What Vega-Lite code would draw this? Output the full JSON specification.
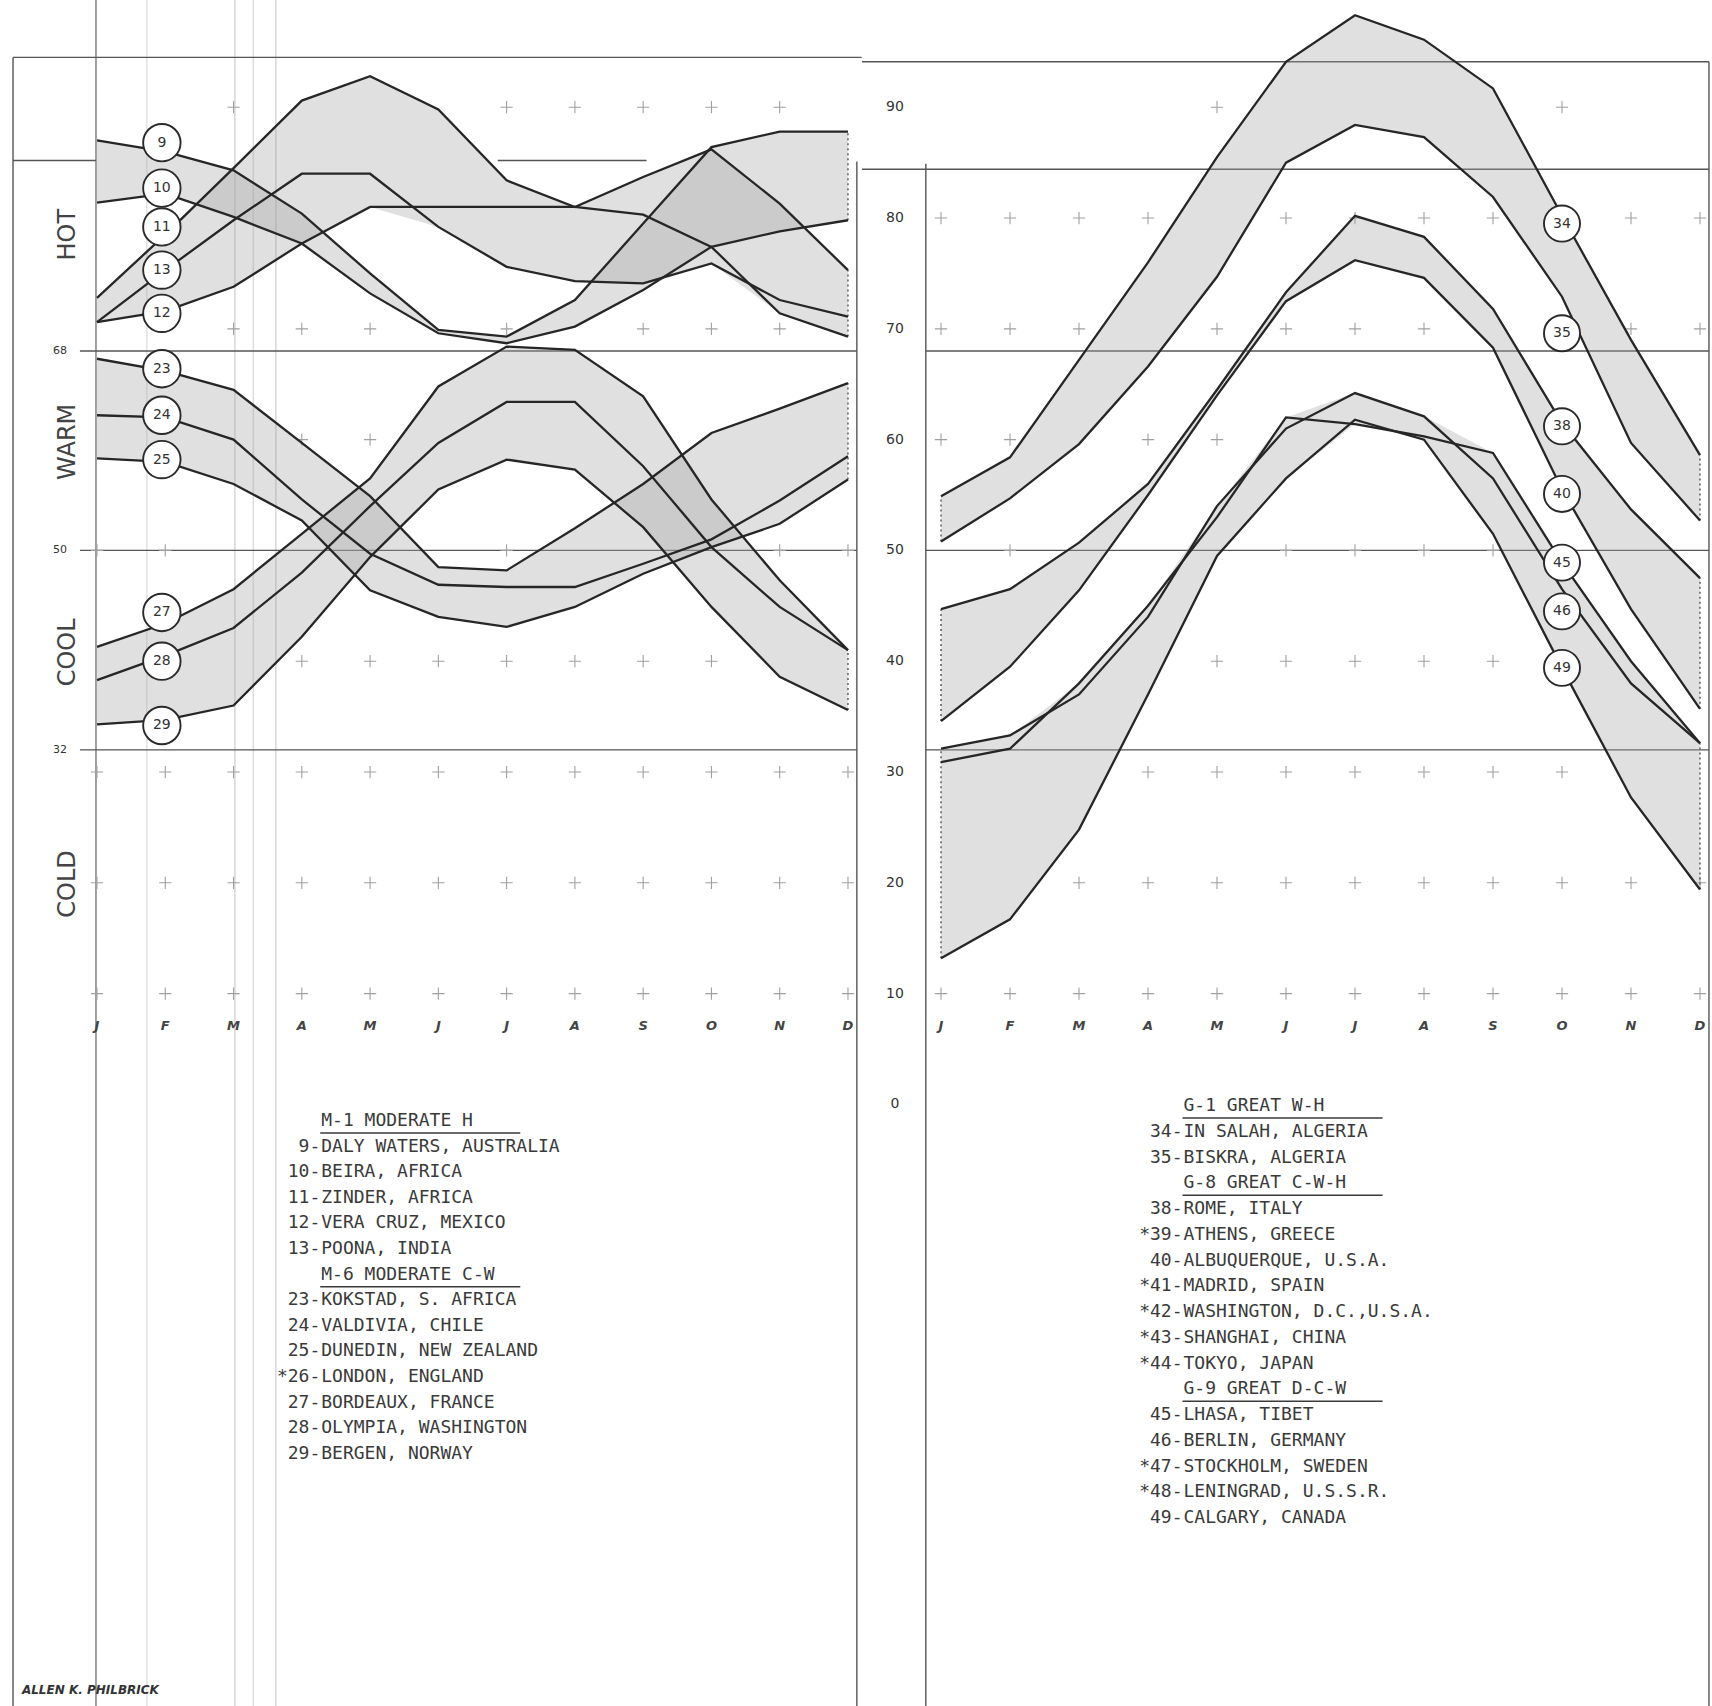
{
"$schema": "https://vega.github.io/schema/vega-lite/v6.json",
"width": 1712, "height": 1706,
"autosize": {"type": "none"},
"padding": 0,
"background": "white",
"config": {"view": {"stroke": null}},
"datasets": {
"curves": [
{"p":"L","g":"M1S","s":"9","m":[1,2,3,4,5,6,7,8,9,10,11,12],"t":[87.0,86.0,84.3,80.4,75.0,69.9,69.3,72.6,79.5,86.4,87.8,87.8]},
{"p":"L","g":"M1S","s":"10","m":[1,2,3,4,5,6,7,8,9,10,11,12],"t":[81.4,82.2,80.1,77.7,73.2,69.6,68.7,70.2,73.5,77.4,78.8,79.8]},
{"p":"L","g":"M1N","s":"11","m":[1,2,3,4,5,6,7,8,9,10,11,12],"t":[72.8,78.5,84.5,90.6,92.8,89.8,83.4,81.0,83.7,86.2,81.3,75.3]},
{"p":"L","g":"M1N","s":"12","m":[1,2,3,4,5,6,7,8,9,10,11,12],"t":[70.6,71.6,73.8,77.7,81.0,81.0,81.0,81.0,80.3,77.4,71.4,69.3]},
{"p":"L","g":"M1N","s":"13","m":[1,2,3,4,5,6,7,8,9,10,11,12],"t":[70.6,75.3,79.8,84.0,84.0,79.2,75.6,74.3,74.1,75.9,72.6,71.1]},
{"p":"L","g":"MCS","s":"23","m":[1,2,3,4,5,6,7,8,9,10,11,12],"t":[67.3,66.2,64.5,59.7,54.9,48.5,48.2,52.0,56.0,60.6,62.8,65.1]},
{"p":"L","g":"MCS","s":"24","m":[1,2,3,4,5,6,7,8,9,10,11,12],"t":[62.2,62.0,60.0,54.6,49.7,46.9,46.7,46.7,48.8,51.0,54.5,58.5]},
{"p":"L","g":"MCS","s":"25","m":[1,2,3,4,5,6,7,8,9,10,11,12],"t":[58.3,58.0,56.0,52.7,46.4,44.0,43.1,44.9,47.9,50.3,52.4,56.4]},
{"p":"L","g":"MCN","s":"27","m":[1,2,3,4,5,6,7,8,9,10,11,12],"t":[41.3,43.4,46.5,51.5,56.5,64.8,68.4,68.1,63.9,54.6,47.3,41.0]},
{"p":"L","g":"MCN","s":"28","m":[1,2,3,4,5,6,7,8,9,10,11,12],"t":[38.3,40.5,43.0,48.0,54.0,59.7,63.4,63.4,57.6,50.3,44.9,41.0]},
{"p":"L","g":"MCN","s":"29","m":[1,2,3,4,5,6,7,8,9,10,11,12],"t":[34.3,34.7,36.0,42.2,49.4,55.5,58.2,57.3,52.1,44.9,38.6,35.6]},
{"p":"R","g":"G1","s":"34","m":[1,2,3,4,5,6,7,8,9,10,11,12],"t":[54.9,58.4,67.2,76.0,85.5,94.1,98.3,96.1,91.7,80.2,69.0,58.6]},
{"p":"R","g":"G1","s":"35","m":[1,2,3,4,5,6,7,8,9,10,11,12],"t":[50.8,54.7,59.6,66.6,74.7,85.0,88.4,87.3,81.9,72.9,59.7,52.7]},
{"p":"R","g":"G8","s":"38","m":[1,2,3,4,5,6,7,8,9,10,11,12],"t":[44.7,46.5,50.7,56.0,64.5,73.3,80.2,78.3,71.8,61.5,53.7,47.5]},
{"p":"R","g":"G8","s":"40","m":[1,2,3,4,5,6,7,8,9,10,11,12],"t":[34.6,39.5,46.4,55.0,64.0,72.5,76.2,74.6,68.3,55.5,44.7,35.7]},
{"p":"R","g":"G9","s":"45","m":[1,2,3,4,5,6,7,8,9,10,11,12],"t":[30.9,32.1,38.0,45.0,53.0,62.0,61.4,60.3,58.8,48.9,40.0,32.6]},
{"p":"R","g":"G9","s":"46","m":[1,2,3,4,5,6,7,8,9,10,11,12],"t":[32.1,33.3,37.0,44.0,54.0,61.0,64.2,62.1,56.5,46.5,38.0,32.6]},
{"p":"R","g":"G9","s":"49","m":[1,2,3,4,5,6,7,8,9,10,11,12],"t":[13.2,16.7,24.8,37.0,49.5,56.5,61.8,60.0,51.5,39.4,27.7,19.4]}
],
"tags": [
{"p":"L","n":"9","m":1.95,"t":86.8},{"p":"L","n":"10","m":1.95,"t":82.7},{"p":"L","n":"11","m":1.95,"t":79.2},
{"p":"L","n":"13","m":1.95,"t":75.3},{"p":"L","n":"12","m":1.95,"t":71.4},{"p":"L","n":"23","m":1.95,"t":66.4},
{"p":"L","n":"24","m":1.95,"t":62.2},{"p":"L","n":"25","m":1.95,"t":58.2},{"p":"L","n":"27","m":1.95,"t":44.4},
{"p":"L","n":"28","m":1.95,"t":40.0},{"p":"L","n":"29","m":1.95,"t":34.2},
{"p":"R","n":"34","m":10,"t":79.5},{"p":"R","n":"35","m":10,"t":69.6},{"p":"R","n":"38","m":10,"t":61.2},
{"p":"R","n":"40","m":10,"t":55.1},{"p":"R","n":"45","m":10,"t":48.9},{"p":"R","n":"46","m":10,"t":44.5},
{"p":"R","n":"49","m":10,"t":39.4}
],
"crosses": [
{"p":"L","t":90,"m":[3,7,8,9,10,11]},
{"p":"L","t":70,"m":[3,4,5,7,9,10,11]},
{"p":"L","t":60,"m":[4,5]},
{"p":"L","t":50,"m":[1,2,7,11,12]},
{"p":"L","t":40,"m":[4,5,6,7,8,9,10]},
{"p":"L","t":30,"m":[1,2,3,4,5,6,7,8,9,10,11,12]},
{"p":"L","t":20,"m":[1,2,3,4,5,6,7,8,9,10,11,12]},
{"p":"L","t":10,"m":[1,2,3,4,5,6,7,8,9,10,11,12]},
{"p":"R","t":90,"m":[5,10]},
{"p":"R","t":80,"m":[1,2,3,4,6,7,8,9,11,12]},
{"p":"R","t":70,"m":[1,2,3,5,6,7,8,11,12]},
{"p":"R","t":60,"m":[1,2,4,5]},
{"p":"R","t":50,"m":[2,6,7,8,9]},
{"p":"R","t":40,"m":[5,6,7,8,9]},
{"p":"R","t":30,"m":[4,5,6,7,8,9,10]},
{"p":"R","t":20,"m":[3,4,5,6,7,8,9,10,11,12]},
{"p":"R","t":10,"m":[1,2,3,4,5,6,7,8,9,10,11,12]}
],
"bounds": [{"t":32},{"t":50},{"t":68}],
"classes": [{"c":"HOT","t":78.5},{"c":"WARM","t":59.8},{"c":"COOL","t":40.8},{"c":"COLD","t":19.9}],
"ylabels": [{"t":90},{"t":80},{"t":70},{"t":60},{"t":50},{"t":40},{"t":30},{"t":20},{"t":10},{"t":0}],
"months": [{"m":1,"lab":"J"},{"m":2,"lab":"F"},{"m":3,"lab":"M"},{"m":4,"lab":"A"},{"m":5,"lab":"M"},{"m":6,"lab":"J"},{"m":7,"lab":"J"},{"m":8,"lab":"A"},{"m":9,"lab":"S"},{"m":10,"lab":"O"},{"m":11,"lab":"N"},{"m":12,"lab":"D"}],
"legend": [
{"p":"L","line":0,"k":"t","name":"M-1 MODERATE H"},
{"p":"L","line":1,"k":"i","num":"9-","name":"DALY WATERS, AUSTRALIA"},
{"p":"L","line":2,"k":"i","num":"10-","name":"BEIRA, AFRICA"},
{"p":"L","line":3,"k":"i","num":"11-","name":"ZINDER, AFRICA"},
{"p":"L","line":4,"k":"i","num":"12-","name":"VERA CRUZ, MEXICO"},
{"p":"L","line":5,"k":"i","num":"13-","name":"POONA, INDIA"},
{"p":"L","line":6,"k":"t","name":"M-6 MODERATE C-W"},
{"p":"L","line":7,"k":"i","num":"23-","name":"KOKSTAD, S. AFRICA"},
{"p":"L","line":8,"k":"i","num":"24-","name":"VALDIVIA, CHILE"},
{"p":"L","line":9,"k":"i","num":"25-","name":"DUNEDIN, NEW ZEALAND"},
{"p":"L","line":10,"k":"i","num":"*26-","name":"LONDON, ENGLAND"},
{"p":"L","line":11,"k":"i","num":"27-","name":"BORDEAUX, FRANCE"},
{"p":"L","line":12,"k":"i","num":"28-","name":"OLYMPIA, WASHINGTON"},
{"p":"L","line":13,"k":"i","num":"29-","name":"BERGEN, NORWAY"},
{"p":"R","line":0,"k":"t","name":"G-1 GREAT W-H"},
{"p":"R","line":1,"k":"i","num":"34-","name":"IN SALAH, ALGERIA"},
{"p":"R","line":2,"k":"i","num":"35-","name":"BISKRA, ALGERIA"},
{"p":"R","line":3,"k":"t","name":"G-8 GREAT C-W-H"},
{"p":"R","line":4,"k":"i","num":"38-","name":"ROME, ITALY"},
{"p":"R","line":5,"k":"i","num":"*39-","name":"ATHENS, GREECE"},
{"p":"R","line":6,"k":"i","num":"40-","name":"ALBUQUERQUE, U.S.A."},
{"p":"R","line":7,"k":"i","num":"*41-","name":"MADRID, SPAIN"},
{"p":"R","line":8,"k":"i","num":"*42-","name":"WASHINGTON, D.C.,U.S.A."},
{"p":"R","line":9,"k":"i","num":"*43-","name":"SHANGHAI, CHINA"},
{"p":"R","line":10,"k":"i","num":"*44-","name":"TOKYO, JAPAN"},
{"p":"R","line":11,"k":"t","name":"G-9 GREAT D-C-W"},
{"p":"R","line":12,"k":"i","num":"45-","name":"LHASA, TIBET"},
{"p":"R","line":13,"k":"i","num":"46-","name":"BERLIN, GERMANY"},
{"p":"R","line":14,"k":"i","num":"*47-","name":"STOCKHOLM, SWEDEN"},
{"p":"R","line":15,"k":"i","num":"*48-","name":"LENINGRAD, U.S.S.R."},
{"p":"R","line":16,"k":"i","num":"49-","name":"CALGARY, CANADA"}
]
},
"resolve": {"scale": {"x": "independent", "y": "independent"}},
"layer": [
{
"resolve": {"scale": {"y": "independent"}},
"layer": [
{
"layer": [
{"data":{"values":[{}]},"mark":{"type":"rule","color":"#8a8a8a","strokeWidth":1.6},"encoding":{"x":{"datum":0.985,"type":"quantitative","scale":{"domain":[-0.4208,24.656],"nice":false,"zero":false},"axis":null},"y":{"datum":99.68,"type":"quantitative","scale":{"domain":[-54.3,99.68],"nice":false,"zero":false},"axis":null},"y2":{"datum":-54.3}}},
{"data":{"values":[{}]},"mark":{"type":"rule","color":"#e2e2e2","strokeWidth":1.5},"encoding":{"x":{"datum":1.73,"type":"quantitative","scale":{"domain":[-0.4208,24.656],"nice":false,"zero":false},"axis":null},"y":{"datum":99.68,"type":"quantitative","scale":{"domain":[-54.3,99.68],"nice":false,"zero":false},"axis":null},"y2":{"datum":-54.3}}},
{"data":{"values":[{}]},"mark":{"type":"rule","color":"#d6d6d6","strokeWidth":1.5},"encoding":{"x":{"datum":3.02,"type":"quantitative","scale":{"domain":[-0.4208,24.656],"nice":false,"zero":false},"axis":null},"y":{"datum":99.68,"type":"quantitative","scale":{"domain":[-54.3,99.68],"nice":false,"zero":false},"axis":null},"y2":{"datum":-54.3}}},
{"data":{"values":[{}]},"mark":{"type":"rule","color":"#dcdcdc","strokeWidth":1.5},"encoding":{"x":{"datum":3.29,"type":"quantitative","scale":{"domain":[-0.4208,24.656],"nice":false,"zero":false},"axis":null},"y":{"datum":99.68,"type":"quantitative","scale":{"domain":[-54.3,99.68],"nice":false,"zero":false},"axis":null},"y2":{"datum":-54.3}}},
{"data":{"values":[{}]},"mark":{"type":"rule","color":"#d6d6d6","strokeWidth":1.5},"encoding":{"x":{"datum":3.62,"type":"quantitative","scale":{"domain":[-0.4208,24.656],"nice":false,"zero":false},"axis":null},"y":{"datum":99.68,"type":"quantitative","scale":{"domain":[-54.3,99.68],"nice":false,"zero":false},"axis":null},"y2":{"datum":-54.3}}},
{"data":{"values":[{}]},"mark":{"type":"rule","color":"#555555","strokeWidth":1.4},"encoding":{"x":{"datum":-0.23,"type":"quantitative","scale":{"domain":[-0.4208,24.656],"nice":false,"zero":false},"axis":null},"x2":{"datum":12.2},"y":{"datum":94.5,"type":"quantitative","scale":{"domain":[-54.3,99.68],"nice":false,"zero":false},"axis":null}}},
{"data":{"values":[{}]},"mark":{"type":"rule","color":"#555555","strokeWidth":1.4},"encoding":{"x":{"datum":-0.23,"type":"quantitative","scale":{"domain":[-0.4208,24.656],"nice":false,"zero":false},"axis":null},"y":{"datum":94.5,"type":"quantitative","scale":{"domain":[-54.3,99.68],"nice":false,"zero":false},"axis":null},"y2":{"datum":-54.3}}},
{"data":{"values":[{}]},"mark":{"type":"rule","color":"#555555","strokeWidth":1.4},"encoding":{"x":{"datum":12.13,"type":"quantitative","scale":{"domain":[-0.4208,24.656],"nice":false,"zero":false},"axis":null},"y":{"datum":85.1,"type":"quantitative","scale":{"domain":[-54.3,99.68],"nice":false,"zero":false},"axis":null},"y2":{"datum":-54.3}}},
{"data":{"values":[{}]},"mark":{"type":"rule","color":"#555555","strokeWidth":1.4},"encoding":{"x":{"datum":-0.23,"type":"quantitative","scale":{"domain":[-0.4208,24.656],"nice":false,"zero":false},"axis":null},"x2":{"datum":0.985},"y":{"datum":85.2,"type":"quantitative","scale":{"domain":[-54.3,99.68],"nice":false,"zero":false},"axis":null}}},
{"data":{"values":[{}]},"mark":{"type":"rule","color":"#555555","strokeWidth":1.4},"encoding":{"x":{"datum":6.87,"type":"quantitative","scale":{"domain":[-0.4208,24.656],"nice":false,"zero":false},"axis":null},"x2":{"datum":9.05},"y":{"datum":85.2,"type":"quantitative","scale":{"domain":[-54.3,99.68],"nice":false,"zero":false},"axis":null}}},
{"data":{"name":"bounds"},"mark":{"type":"rule","color":"#555555","strokeWidth":1.4},"encoding":{"x":{"datum":0.75,"type":"quantitative","scale":{"domain":[-0.4208,24.656],"nice":false,"zero":false},"axis":null},"x2":{"datum":12.13},"y":{"field":"t","type":"quantitative","scale":{"domain":[-54.3,99.68],"nice":false,"zero":false},"axis":null}}},
{"data":{"name":"crosses"},"transform":[{"filter":"datum.p==='L'"},{"flatten":["m"]}],"mark":{"type":"point","shape":"M-1,0H1M0,-1V1","size":150,"color":"#a0a0a0","strokeWidth":1.1,"filled":false,"opacity":1},"encoding":{"x":{"field":"m","type":"quantitative","scale":{"domain":[-0.4208,24.656],"nice":false,"zero":false},"axis":null},"y":{"field":"t","type":"quantitative","scale":{"domain":[-54.3,99.68],"nice":false,"zero":false},"axis":null}}},
{"data":{"name":"curves"},"transform":[{"filter":"datum.p==='L'"},{"flatten":["m","t"]},{"aggregate":[{"op":"min","field":"t","as":"lo"},{"op":"max","field":"t","as":"hi"}],"groupby":["g","m"]}],"mark":{"type":"area","color":"#a4a4a4","opacity":0.34,"interpolate":"linear"},"encoding":{"x":{"field":"m","type":"quantitative","scale":{"domain":[-0.4208,24.656],"nice":false,"zero":false},"axis":null},"y":{"field":"lo","type":"quantitative","scale":{"domain":[-54.3,99.68],"nice":false,"zero":false},"axis":null},"y2":{"field":"hi"},"detail":{"field":"g"}}},
{"data":{"name":"curves"},"transform":[{"filter":"datum.p==='L'"},{"flatten":["m","t"]},{"aggregate":[{"op":"min","field":"t","as":"lo"},{"op":"max","field":"t","as":"hi"}],"groupby":["g","m"]},{"filter":{"field":"m","oneOf":[12]}}],"mark":{"type":"rule","color":"#555555","strokeWidth":1.4,"strokeDash":[2,3]},"encoding":{"x":{"field":"m","type":"quantitative","scale":{"domain":[-0.4208,24.656],"nice":false,"zero":false},"axis":null},"y":{"field":"lo","type":"quantitative","scale":{"domain":[-54.3,99.68],"nice":false,"zero":false},"axis":null},"y2":{"field":"hi"}}},
{"data":{"name":"curves"},"transform":[{"filter":"datum.p==='L'"},{"flatten":["m","t"]}],"mark":{"type":"line","color":"#262626","strokeWidth":2.3,"interpolate":"linear"},"encoding":{"x":{"field":"m","type":"quantitative","scale":{"domain":[-0.4208,24.656],"nice":false,"zero":false},"axis":null},"y":{"field":"t","type":"quantitative","scale":{"domain":[-54.3,99.68],"nice":false,"zero":false},"axis":null},"detail":{"field":"s"},"order":{"field":"m","type":"quantitative"}}},
{"data":{"name":"tags"},"transform":[{"filter":"datum.p==='L'"}],"mark":{"type":"point","shape":"circle","size":1400,"filled":true,"fill":"white","stroke":"#2a2a2a","strokeWidth":1.9,"opacity":1},"encoding":{"x":{"field":"m","type":"quantitative","scale":{"domain":[-0.4208,24.656],"nice":false,"zero":false},"axis":null},"y":{"field":"t","type":"quantitative","scale":{"domain":[-54.3,99.68],"nice":false,"zero":false},"axis":null}}},
{"data":{"name":"tags"},"transform":[{"filter":"datum.p==='L'"}],"mark":{"type":"text","font":"DejaVu Sans","fontSize":14,"color":"#333333","align":"center","baseline":"middle"},"encoding":{"x":{"field":"m","type":"quantitative","scale":{"domain":[-0.4208,24.656],"nice":false,"zero":false},"axis":null},"y":{"field":"t","type":"quantitative","scale":{"domain":[-54.3,99.68],"nice":false,"zero":false},"axis":null},"text":{"field":"n"}}},
{"data":{"name":"bounds"},"mark":{"type":"text","font":"DejaVu Sans","fontSize":11,"color":"#333333","align":"center","baseline":"middle"},"encoding":{"x":{"datum":0.458,"type":"quantitative","scale":{"domain":[-0.4208,24.656],"nice":false,"zero":false},"axis":null},"y":{"field":"t","type":"quantitative","scale":{"domain":[-54.3,99.68],"nice":false,"zero":false},"axis":null},"text":{"field":"t","type":"quantitative"}}},
{"data":{"name":"classes"},"mark":{"type":"text","font":"DejaVu Sans","fontSize":24,"color":"#444444","align":"center","baseline":"middle","angle":270},"encoding":{"x":{"datum":0.575,"type":"quantitative","scale":{"domain":[-0.4208,24.656],"nice":false,"zero":false},"axis":null},"y":{"field":"t","type":"quantitative","scale":{"domain":[-54.3,99.68],"nice":false,"zero":false},"axis":null},"text":{"field":"c"}}},
{"data":{"name":"months"},"mark":{"type":"text","font":"DejaVu Sans","fontSize":13,"fontStyle":"italic","fontWeight":"bold","color":"#444444","align":"center","baseline":"middle"},"encoding":{"x":{"field":"m","type":"quantitative","scale":{"domain":[-0.4208,24.656],"nice":false,"zero":false},"axis":null},"y":{"datum":7.1,"type":"quantitative","scale":{"domain":[-54.3,99.68],"nice":false,"zero":false},"axis":null},"text":{"field":"lab"}}},
{"data":{"values":[{"sig":"ALLEN K. PHILBRICK"}]},"mark":{"type":"text","font":"DejaVu Sans","fontSize":12,"fontStyle":"italic","fontWeight":"bold","color":"#333333","align":"left","baseline":"middle"},"encoding":{"x":{"datum":-0.1,"type":"quantitative","scale":{"domain":[-0.4208,24.656],"nice":false,"zero":false},"axis":null},"y":{"datum":-52.9,"type":"quantitative","scale":{"domain":[-54.3,99.68],"nice":false,"zero":false},"axis":null},"text":{"field":"sig"}}}
]
},
{
"data": {"name": "legend"},
"transform": [{"filter": "datum.p==='L'"}],
"layer": [
{"transform":[{"filter":"datum.k==='i'"}],"mark":{"type":"text","font":"DejaVu Sans Mono","fontSize":18,"color":"#3a3a3a","align":"right","baseline":"middle"},"encoding":{"x":{"datum":4.27,"type":"quantitative","scale":{"domain":[-0.4208,24.656],"nice":false,"zero":false},"axis":null},"y":{"field":"line","type":"quantitative","scale":{"domain":[-43.79,22.85],"reverse":true,"nice":false,"zero":false},"axis":null},"text":{"field":"num"}}},
{"mark":{"type":"text","font":"DejaVu Sans Mono","fontSize":18,"color":"#3a3a3a","align":"left","baseline":"middle","dx":1},"encoding":{"x":{"datum":4.27,"type":"quantitative","scale":{"domain":[-0.4208,24.656],"nice":false,"zero":false},"axis":null},"y":{"field":"line","type":"quantitative","scale":{"domain":[-43.79,22.85],"reverse":true,"nice":false,"zero":false},"axis":null},"text":{"field":"name"}}},
{"transform":[{"filter":"datum.k==='t'"}],"mark":{"type":"rule","color":"#3a3a3a","strokeWidth":1.5,"yOffset":12},"encoding":{"x":{"datum":4.27,"type":"quantitative","scale":{"domain":[-0.4208,24.656],"nice":false,"zero":false},"axis":null},"x2":{"datum":7.2},"y":{"field":"line","type":"quantitative","scale":{"domain":[-43.79,22.85],"reverse":true,"nice":false,"zero":false},"axis":null}}}
]
}
]
},
{
"resolve": {"scale": {"y": "independent"}},
"layer": [
{
"layer": [
{"data":{"values":[{}]},"mark":{"type":"rule","color":"#555555","strokeWidth":1.4},"encoding":{"x":{"datum":-0.145,"type":"quantitative","scale":{"domain":[-12.638,12.174],"nice":false,"zero":false},"axis":null},"x2":{"datum":12.13},"y":{"datum":94.1,"type":"quantitative","scale":{"domain":[-54.3,99.68],"nice":false,"zero":false},"axis":null}}},
{"data":{"values":[{}]},"mark":{"type":"rule","color":"#555555","strokeWidth":1.4},"encoding":{"x":{"datum":-0.145,"type":"quantitative","scale":{"domain":[-12.638,12.174],"nice":false,"zero":false},"axis":null},"x2":{"datum":12.13},"y":{"datum":84.4,"type":"quantitative","scale":{"domain":[-54.3,99.68],"nice":false,"zero":false},"axis":null}}},
{"data":{"values":[{}]},"mark":{"type":"rule","color":"#555555","strokeWidth":1.4},"encoding":{"x":{"datum":0.78,"type":"quantitative","scale":{"domain":[-12.638,12.174],"nice":false,"zero":false},"axis":null},"y":{"datum":84.9,"type":"quantitative","scale":{"domain":[-54.3,99.68],"nice":false,"zero":false},"axis":null},"y2":{"datum":-54.3}}},
{"data":{"values":[{}]},"mark":{"type":"rule","color":"#555555","strokeWidth":1.4},"encoding":{"x":{"datum":12.13,"type":"quantitative","scale":{"domain":[-12.638,12.174],"nice":false,"zero":false},"axis":null},"y":{"datum":94.1,"type":"quantitative","scale":{"domain":[-54.3,99.68],"nice":false,"zero":false},"axis":null},"y2":{"datum":-54.3}}},
{"data":{"name":"bounds"},"mark":{"type":"rule","color":"#555555","strokeWidth":1.4},"encoding":{"x":{"datum":0.78,"type":"quantitative","scale":{"domain":[-12.638,12.174],"nice":false,"zero":false},"axis":null},"x2":{"datum":12.13},"y":{"field":"t","type":"quantitative","scale":{"domain":[-54.3,99.68],"nice":false,"zero":false},"axis":null}}},
{"data":{"name":"crosses"},"transform":[{"filter":"datum.p==='R'"},{"flatten":["m"]}],"mark":{"type":"point","shape":"M-1,0H1M0,-1V1","size":150,"color":"#a0a0a0","strokeWidth":1.1,"filled":false,"opacity":1},"encoding":{"x":{"field":"m","type":"quantitative","scale":{"domain":[-12.638,12.174],"nice":false,"zero":false},"axis":null},"y":{"field":"t","type":"quantitative","scale":{"domain":[-54.3,99.68],"nice":false,"zero":false},"axis":null}}},
{"data":{"name":"curves"},"transform":[{"filter":"datum.p==='R'"},{"flatten":["m","t"]},{"aggregate":[{"op":"min","field":"t","as":"lo"},{"op":"max","field":"t","as":"hi"}],"groupby":["g","m"]}],"mark":{"type":"area","color":"#a4a4a4","opacity":0.34,"interpolate":"linear"},"encoding":{"x":{"field":"m","type":"quantitative","scale":{"domain":[-12.638,12.174],"nice":false,"zero":false},"axis":null},"y":{"field":"lo","type":"quantitative","scale":{"domain":[-54.3,99.68],"nice":false,"zero":false},"axis":null},"y2":{"field":"hi"},"detail":{"field":"g"}}},
{"data":{"name":"curves"},"transform":[{"filter":"datum.p==='R'"},{"flatten":["m","t"]},{"aggregate":[{"op":"min","field":"t","as":"lo"},{"op":"max","field":"t","as":"hi"}],"groupby":["g","m"]},{"filter":{"field":"m","oneOf":[1,12]}}],"mark":{"type":"rule","color":"#555555","strokeWidth":1.4,"strokeDash":[2,3]},"encoding":{"x":{"field":"m","type":"quantitative","scale":{"domain":[-12.638,12.174],"nice":false,"zero":false},"axis":null},"y":{"field":"lo","type":"quantitative","scale":{"domain":[-54.3,99.68],"nice":false,"zero":false},"axis":null},"y2":{"field":"hi"}}},
{"data":{"name":"curves"},"transform":[{"filter":"datum.p==='R'"},{"flatten":["m","t"]}],"mark":{"type":"line","color":"#262626","strokeWidth":2.3,"interpolate":"linear"},"encoding":{"x":{"field":"m","type":"quantitative","scale":{"domain":[-12.638,12.174],"nice":false,"zero":false},"axis":null},"y":{"field":"t","type":"quantitative","scale":{"domain":[-54.3,99.68],"nice":false,"zero":false},"axis":null},"detail":{"field":"s"},"order":{"field":"m","type":"quantitative"}}},
{"data":{"name":"tags"},"transform":[{"filter":"datum.p==='R'"}],"mark":{"type":"point","shape":"circle","size":1300,"filled":true,"fill":"white","stroke":"#2a2a2a","strokeWidth":1.9,"opacity":1},"encoding":{"x":{"field":"m","type":"quantitative","scale":{"domain":[-12.638,12.174],"nice":false,"zero":false},"axis":null},"y":{"field":"t","type":"quantitative","scale":{"domain":[-54.3,99.68],"nice":false,"zero":false},"axis":null}}},
{"data":{"name":"tags"},"transform":[{"filter":"datum.p==='R'"}],"mark":{"type":"text","font":"DejaVu Sans","fontSize":14,"color":"#333333","align":"center","baseline":"middle"},"encoding":{"x":{"field":"m","type":"quantitative","scale":{"domain":[-12.638,12.174],"nice":false,"zero":false},"axis":null},"y":{"field":"t","type":"quantitative","scale":{"domain":[-54.3,99.68],"nice":false,"zero":false},"axis":null},"text":{"field":"n"}}},
{"data":{"name":"ylabels"},"mark":{"type":"text","font":"DejaVu Sans","fontSize":14,"color":"#333333","align":"center","baseline":"middle"},"encoding":{"x":{"datum":0.333,"type":"quantitative","scale":{"domain":[-12.638,12.174],"nice":false,"zero":false},"axis":null},"y":{"field":"t","type":"quantitative","scale":{"domain":[-54.3,99.68],"nice":false,"zero":false},"axis":null},"text":{"field":"t","type":"quantitative"}}},
{"data":{"name":"months"},"mark":{"type":"text","font":"DejaVu Sans","fontSize":13,"fontStyle":"italic","fontWeight":"bold","color":"#444444","align":"center","baseline":"middle"},"encoding":{"x":{"field":"m","type":"quantitative","scale":{"domain":[-12.638,12.174],"nice":false,"zero":false},"axis":null},"y":{"datum":7.1,"type":"quantitative","scale":{"domain":[-54.3,99.68],"nice":false,"zero":false},"axis":null},"text":{"field":"lab"}}}
]
},
{
"data": {"name": "legend"},
"transform": [{"filter": "datum.p==='R'"}],
"layer": [
{"transform":[{"filter":"datum.k==='i'"}],"mark":{"type":"text","font":"DejaVu Sans Mono","fontSize":18,"color":"#3a3a3a","align":"right","baseline":"middle"},"encoding":{"x":{"datum":4.5,"type":"quantitative","scale":{"domain":[-12.638,12.174],"nice":false,"zero":false},"axis":null},"y":{"field":"line","type":"quantitative","scale":{"domain":[-42.95,23.30],"reverse":true,"nice":false,"zero":false},"axis":null},"text":{"field":"num"}}},
{"mark":{"type":"text","font":"DejaVu Sans Mono","fontSize":18,"color":"#3a3a3a","align":"left","baseline":"middle","dx":1},"encoding":{"x":{"datum":4.5,"type":"quantitative","scale":{"domain":[-12.638,12.174],"nice":false,"zero":false},"axis":null},"y":{"field":"line","type":"quantitative","scale":{"domain":[-42.95,23.30],"reverse":true,"nice":false,"zero":false},"axis":null},"text":{"field":"name"}}},
{"transform":[{"filter":"datum.k==='t'"}],"mark":{"type":"rule","color":"#3a3a3a","strokeWidth":1.5,"yOffset":12},"encoding":{"x":{"datum":4.5,"type":"quantitative","scale":{"domain":[-12.638,12.174],"nice":false,"zero":false},"axis":null},"x2":{"datum":7.4},"y":{"field":"line","type":"quantitative","scale":{"domain":[-42.95,23.30],"reverse":true,"nice":false,"zero":false},"axis":null}}}
]
}
]
}
]
}
